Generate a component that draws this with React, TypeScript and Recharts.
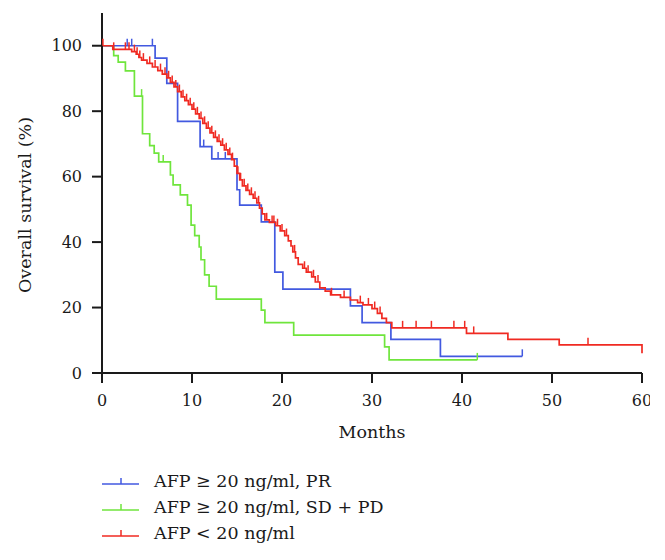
import { ComposedChart, Line, Scatter, XAxis, YAxis, Legend } from 'recharts';

// Kaplan-Meier steps: [month, survival %]
const prSteps: [number, number][] = [
  [0, 100], [5.9, 96.2], [7.2, 88.5], [8.4, 76.9], [10.9, 69.2], [12.2, 65.4], [15.0, 56.0], [15.3, 51.3],
  [17.7, 46.2], [19.2, 30.8], [20.1, 25.6], [27.6, 20.5], [28.9, 15.4], [32.1, 10.3], [37.6, 5.1], [46.7, 5.1],
];
const prCensored: [number, number][] = [
  [2.8, 100], [3.3, 100], [5.6, 100], [11.3, 69.2], [12.9, 65.4], [13.7, 65.4], [46.7, 5.1],
];

const sdSteps: [number, number][] = [
  [0, 100], [1.3, 97.0], [1.8, 95.0], [2.6, 92.3], [3.6, 84.6], [4.5, 73.1], [5.3, 69.5], [5.8, 67.2],
  [6.3, 64.5], [7.6, 60.5], [7.9, 57.5], [8.7, 54.4], [9.5, 51.3], [9.9, 45.2], [10.3, 42.0], [10.8, 38.5],
  [11.0, 34.6], [11.4, 30.0], [11.9, 26.5], [12.7, 22.6], [17.7, 19.2], [18.1, 15.4], [21.3, 11.6],
  [31.4, 8.0], [31.9, 4.0], [41.7, 4.0],
];
const sdCensored: [number, number][] = [[4.4, 84.6], [6.8, 64.5], [41.7, 4.0]];

const lowSteps: [number, number][] = [
  [0, 100], [1.2, 98.9], [3.3, 98.2], [3.8, 97.4], [4.1, 96.4], [4.4, 95.6], [5.0, 94.6], [5.6, 93.5],
  [6.2, 92.4], [6.7, 91.3], [7.2, 90.2], [7.6, 88.8], [8.0, 87.4], [8.4, 86.0], [8.8, 84.4], [9.2, 83.2],
  [9.6, 82.0], [10.0, 80.6], [10.4, 79.2], [10.8, 77.8], [11.2, 76.3], [11.6, 74.8], [12.0, 73.4],
  [12.4, 72.0], [12.8, 70.8], [13.2, 69.6], [13.6, 68.2], [14.0, 66.8], [14.4, 65.2], [14.7, 63.2],
  [15.0, 61.0], [15.3, 59.0], [15.6, 57.2], [16.0, 55.8], [16.4, 54.6], [16.8, 53.4], [17.2, 52.0],
  [17.5, 50.4], [17.8, 48.6], [18.1, 46.8], [18.6, 46.0], [19.3, 45.0], [19.8, 43.4], [20.3, 42.0],
  [20.7, 40.4], [21.0, 38.8], [21.2, 37.0], [21.5, 35.2], [21.8, 33.2], [22.3, 32.0], [22.7, 30.8],
  [23.3, 29.4], [23.7, 27.8], [24.2, 26.0], [24.8, 25.0], [25.4, 23.9], [26.5, 23.1], [27.6, 22.3],
  [28.4, 21.5], [29.0, 20.8], [30.0, 19.7], [30.6, 18.2], [31.1, 16.7], [31.6, 15.4], [32.2, 13.8],
  [40.5, 12.1], [45.1, 10.3], [50.8, 8.6], [60, 6.0],
];
const lowCensored: [number, number][] = [
  [0.1, 100], [1.3, 98.9], [2.6, 98.9], [3.0, 98.9], [3.6, 98.2], [3.9, 97.4], [4.2, 96.4], [4.6, 95.6],
  [5.3, 94.6], [5.9, 93.5], [6.5, 92.4], [7.0, 91.3], [7.4, 90.2], [7.8, 88.8], [8.2, 87.4], [8.6, 86.0],
  [9.0, 84.4], [9.4, 83.2], [9.8, 82.0], [10.2, 80.6], [10.6, 79.2], [11.0, 77.8], [11.4, 76.3],
  [11.8, 74.8], [12.2, 73.4], [12.6, 72.0], [13.0, 70.8], [13.4, 69.6], [13.8, 68.2], [14.2, 66.8],
  [14.5, 65.2], [15.1, 61.0], [15.4, 59.0], [15.8, 57.2], [16.2, 55.8], [16.6, 54.6], [17.0, 53.4],
  [17.4, 52.0], [18.3, 46.8], [18.9, 46.0], [19.1, 46.0], [19.5, 45.0], [20.0, 43.4], [20.5, 42.0],
  [21.4, 37.0], [22.5, 32.0], [22.9, 30.8], [23.5, 29.4], [24.0, 27.8], [25.5, 23.9], [26.9, 23.1],
  [28.7, 21.5], [29.6, 20.8], [30.3, 19.7], [30.9, 18.2], [33.4, 13.8], [34.9, 13.8], [36.6, 13.8],
  [39.1, 13.8], [40.3, 13.8], [41.3, 12.1], [54.0, 8.6],
];

const xTicks = [0, 10, 20, 30, 40, 50, 60];
const yTicks = [0, 20, 40, 60, 80, 100];
const seriesNames = ['AFP \u2265 20 ng/ml, PR', 'AFP \u2265 20 ng/ml, SD + PD', 'AFP < 20 ng/ml'];
const seriesColors = ['#4259e0', '#6fe53c', '#f02a22'];

const toRows = (arr: [number, number][]) => arr.map(([t, s]) => ({ t, s }));

const FONT = '"DejaVu Serif", serif';
const INK = '#1a1a1a';

const censorShape = (color: string) => (props: any) => (
  <line x1={props.cx} x2={props.cx} y1={props.cy} y2={props.cy - 7} stroke={color} strokeWidth={1.5} />
);

function LegendBox() {
  return (
    <div style={{ fontFamily: FONT, fontSize: 17.5, color: INK }}>
      {seriesNames.map((name, i) => (
        <div key={name} style={{ display: 'flex', alignItems: 'center', height: 26 }}>
          <svg width={38} height={14} style={{ marginRight: 14 }}>
            <line x1={0} x2={37} y1={10} y2={10} stroke={seriesColors[i]} strokeWidth={1.6} />
            <line x1={19} x2={19} y1={10} y2={4} stroke={seriesColors[i]} strokeWidth={1.5} />
          </svg>
          <span>{name}</span>
        </div>
      ))}
    </div>
  );
}

export default function App() {
  const series = [
    { steps: prSteps, cens: prCensored },
    { steps: sdSteps, cens: sdCensored },
    { steps: lowSteps, cens: lowCensored },
  ];
  const order = [1, 0, 2];
  return (
    <div style={{ position: 'absolute', left: 0, top: 0, width: 665, height: 560, background: '#fff' }}>
      <ComposedChart width={650} height={560} margin={{ top: 13, right: 8, bottom: 122, left: 0 }}>
        <XAxis
          type="number"
          dataKey="t"
          domain={[0, 60]}
          ticks={xTicks}
          interval={0}
          height={65}
          axisLine={{ stroke: INK, strokeWidth: 2 }}
          tickLine={{ stroke: INK, strokeWidth: 2 }}
          tickSize={10}
          tickMargin={12}
          tick={{ fill: INK, fontSize: 16, fontFamily: FONT }}
          label={{ value: 'Months', position: 'insideBottom', offset: 0, fill: INK, fontSize: 17.5, fontFamily: FONT }}
        />
        <YAxis
          type="number"
          dataKey="s"
          domain={[0, 110]}
          ticks={yTicks}
          interval={0}
          width={102}
          axisLine={{ stroke: INK, strokeWidth: 2 }}
          tickLine={{ stroke: INK, strokeWidth: 2 }}
          tickSize={10}
          tickMargin={10}
          tick={{ fill: INK, fontSize: 16, fontFamily: FONT }}
          label={{
            content: () => (
              <text x={25} y={205} transform="rotate(-90 25 205)" textAnchor="middle" dominantBaseline="central"
                fill={INK} fontSize={17.5} fontFamily={FONT}>
                Overall survival (%)
              </text>
            ),
          }}
        />
        {order.map((i) => (
          <Line
            key={'l' + i}
            data={toRows(series[i].steps)}
            dataKey="s"
            type="stepAfter"
            stroke={seriesColors[i]}
            strokeWidth={1.7}
            dot={false}
            activeDot={false}
            isAnimationActive={false}
            legendType="none"
          />
        ))}
        {order.map((i) => (
          <Scatter
            key={'c' + i}
            data={toRows(series[i].cens)}
            dataKey="s"
            shape={censorShape(seriesColors[i])}
            isAnimationActive={false}
            legendType="none"
          />
        ))}
        <Legend
          layout="horizontal"
          verticalAlign="middle"
          align="center"
          content={() => <LegendBox />}
          wrapperStyle={{ left: 102, top: 468, width: 320, height: 80 }}
        />
      </ComposedChart>
    </div>
  );
}
